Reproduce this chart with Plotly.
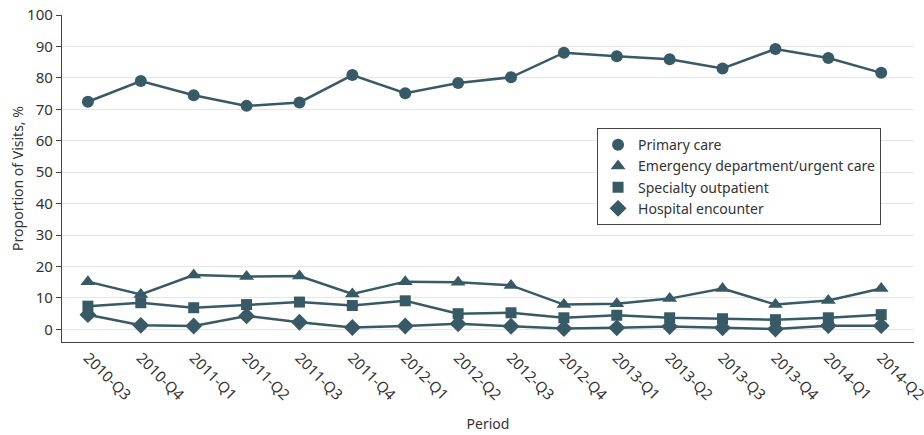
import plotly.graph_objects as go

periods = ["2010-Q3", "2010-Q4", "2011-Q1", "2011-Q2", "2011-Q3", "2011-Q4",
           "2012-Q1", "2012-Q2", "2012-Q3", "2012-Q4", "2013-Q1", "2013-Q2",
           "2013-Q3", "2013-Q4", "2014-Q1", "2014-Q2"]

primary_care = [72.4, 79.0, 74.5, 71.1, 72.2, 80.9, 75.1, 78.4, 80.2, 88.0,
                86.9, 85.9, 83.0, 89.2, 86.3, 81.6]
emergency = [15.2, 11.1, 17.3, 16.8, 17.0, 11.3, 15.2, 15.0, 14.0, 7.9,
             8.2, 9.8, 13.0, 7.9, 9.2, 13.0]
specialty = [7.4, 8.5, 6.9, 7.9, 8.7, 7.6, 9.1, 5.0, 5.3, 3.7,
             4.5, 3.7, 3.4, 3.1, 3.7, 4.7]
hospital = [4.7, 1.3, 1.1, 4.3, 2.3, 0.6, 1.1, 1.8, 1.0, 0.3,
            0.5, 0.9, 0.5, 0.1, 1.2, 1.2]

series = [
    ("Primary care", primary_care, "circle", 12),
    ("Emergency department/urgent care", emergency, "triangle-up", 13),
    ("Specialty outpatient", specialty, "square", 11),
    ("Hospital encounter", hospital, "diamond", 13),
]

color = "#385a67"
fig = go.Figure()
for name, vals, sym, size in series:
    fig.add_trace(go.Scatter(x=periods, y=vals, mode="lines",
                             line=dict(color=color, width=2.5),
                             showlegend=False, hoverinfo="skip"))
for name, vals, sym, size in series:
    fig.add_trace(go.Scatter(x=periods, y=vals, mode="markers", name=name,
                             marker=dict(color=color, symbol=sym, size=size)))

fig.update_layout(
    width=924, height=435,
    margin=dict(l=62, r=10, t=15, b=93, autoexpand=False),
    paper_bgcolor="white", plot_bgcolor="white",
    font=dict(family="Noto Sans", size=14, color="#333333"),
    legend=dict(x=0.628, y=0.654, xanchor="left", yanchor="top",
                bgcolor="white", bordercolor="#444444", borderwidth=1,
                font=dict(size=14), tracegroupgap=0, itemwidth=30),
    showlegend=True,
)
fig.update_xaxes(
    type="category", range=[-0.49, 15.62], automargin=False,
    showline=True, linecolor="#444444", linewidth=1.3,
    ticks="", tickangle=45, tickfont=dict(size=15, color="#333333"),
    showgrid=False, zeroline=False,
    title=dict(text="Period", font=dict(size=14), standoff=16),
)
fig.update_yaxes(
    range=[-4, 100], tickvals=list(range(0, 101, 10)), automargin=False,
    showline=True, linecolor="#444444", linewidth=1.3,
    ticks="outside", ticklen=5, tickcolor="#444444",
    tickfont=dict(size=15, color="#333333"),
    showgrid=True, gridcolor="#e6e6e6", gridwidth=1.3, zeroline=False,
    title=dict(text="Proportion of Visits, %", font=dict(size=14), standoff=0),
)

fig.write_html("out.html", config={"displayModeBar": False},
               post_script="document.body.style.margin='0px';document.body.style.overflow='hidden';")
